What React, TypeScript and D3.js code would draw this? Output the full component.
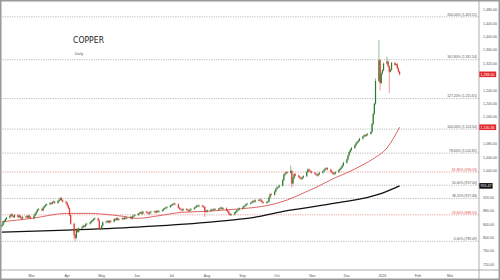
import React from "react";
import * as d3 from "d3";

// ---------- DATA ----------
const START_DATE = "2025-02-03"; // first trading day (Mon)
const FIRST_OPEN = 834;

// daily closes, one row per trading week (Mon..Fri)
const closes: number[] = [
  838, 846, 850, 856, 860,
  866, 870, 864, 862, 868,
  862, 866, 860, 858, 862,
  864, 860, 866, 862, 858,
  866, 872, 878, 884, 886,
  882, 890, 894, 898, 900,
  904, 902, 906, 908, 904,
  910, 914, 918, 912, 908,
  904, 896, 888, 868, 842,
  808, 800, 826, 818, 828,
  832, 836, 834, 840, 842,
  846, 850, 852, 856, 858,
  852, 828, 826, 836, 846,
  848, 850, 846, 850, 848,
  856, 854, 858, 854, 856,
  858, 856, 860, 858, 860,
  862, 858, 864, 866, 868,
  872, 874, 876, 872, 878,
  876, 874, 872, 876, 878,
  878, 876, 880, 878, 880,
  882, 886, 888, 890, 892,
  896, 898, 900, 902, 900,
  890, 886, 884, 882, 886,
  884, 882, 880, 884, 886,
  890, 892, 896, 894, 896,
  894, 892, 880, 878, 882,
  882, 884, 884, 886, 884,
  886, 888, 890, 886, 888,
  882, 878, 872, 868, 870,
  874, 878, 882, 884, 888,
  890, 894, 896, 900, 902,
  904, 906, 910, 908, 912,
  912, 914, 910, 906, 904,
  906, 908, 920, 930, 928,
  938, 946, 950, 952, 956,
  972, 988, 992, 996, 994,
  1000, 962, 978, 990, 986,
  982, 978, 976, 980, 984,
  996, 1004, 1000, 998, 994,
  992, 988, 986, 990, 994,
  998, 1002, 1006, 1008, 1004,
  998, 994, 990, 992, 996,
  1002, 1006, 1010, 1016, 1024,
  1034, 1046, 1056, 1062, 1068,
  1076, 1082, 1086, 1090, 1096,
  1102, 1106, 1104, 1108, 1110,
  1116, 1140, 1170, 1200, 1268,
  1330, 1262, 1290, 1300, 1320,
  1326, 1312, 1296, 1302, 1322,
  1316, 1318, 1306, 1296, 1288,
];

// notable wick extremes
const highWicks: [string, number][] = [
  ["2025-03-26", 922],
  ["2025-10-13", 1016],
  ["2025-12-26", 1276],
  ["2025-12-29", 1390],
  ["2026-01-05", 1340],
];
const lowWicks: [string, number][] = [
  ["2025-04-07", 796],
  ["2025-04-08", 790],
  ["2025-07-30", 862],
  ["2025-10-14", 950],
  ["2025-12-30", 1240],
  ["2026-01-07", 1232],
];

// 50-day MA (red)
const ma50Dates = [
  "2025-02-03", "2025-03-01", "2025-04-01", "2025-04-20", "2025-05-01", "2025-05-20",
  "2025-06-01", "2025-06-20", "2025-07-10", "2025-08-01", "2025-08-20", "2025-09-10",
  "2025-09-25", "2025-10-10", "2025-10-25", "2025-11-05", "2025-11-20", "2025-12-01",
  "2025-12-15", "2025-12-25", "2026-01-05", "2026-01-16",
];
const ma50Values = [
  848, 858, 873, 873, 871, 864,
  858, 866, 876, 879, 884, 890,
  898, 913, 935, 952, 978, 994,
  1018, 1038, 1068, 1130,
];

// 200-day MA (black)
const ma200Dates = [
  "2025-02-03", "2025-04-01", "2025-06-01", "2025-08-01", "2025-08-20", "2025-09-10",
  "2025-10-10", "2025-11-22", "2025-12-30", "2026-01-16",
];
const ma200Values = [817, 823, 832, 846, 852, 860, 881, 904, 931, 955];

// fibonacci levels
const fibPcts = ["0.00%", "23.60%", "38.20%", "50.00%", "61.80%", "78.60%", "100.00%", "127.20%", "161.80%", "200.00%"];
const fibValues = [789.49, 868.55, 917.46, 957.0, 996.53, 1052.81, 1124.5, 1215.61, 1331.54, 1459.51];
const fibRed = ["23.60%", "61.80%"];

// axes
const yTicks = [720, 760, 800, 840, 880, 920, 960, 1000, 1040, 1080, 1120, 1160, 1200, 1240, 1280, 1320, 1360, 1400, 1440, 1480];
const monthTickDates = ["2025-03-01", "2025-04-01", "2025-05-01", "2025-06-01", "2025-07-01", "2025-08-01", "2025-09-01", "2025-10-01", "2025-11-01", "2025-12-01", "2026-01-01", "2026-02-01", "2026-03-01"];
const monthTickLabels = ["Mar", "Apr", "May", "Jun", "Jul", "Aug", "Sep", "Oct", "Nov", "Dec", "2026", "Feb", "Mar"];

const TITLE = "COPPER";
const SUBTITLE = "Daily";
const LAST_LABEL = "1,288.00";
const MA50_LABEL = "1,130.36";
const MA200_LABEL = "955.47";

// ---------- HELPERS ----------
const parse = (s: string) => {
  const [y, m, d] = s.split("-").map(Number);
  return new Date(y, m - 1, d);
};

function tradingDays(start: string, n: number): Date[] {
  const out: Date[] = [];
  const d = parse(start);
  while (out.length < n) {
    const wd = d.getDay();
    if (wd !== 0 && wd !== 6) out.push(new Date(d));
    d.setDate(d.getDate() + 1);
  }
  return out;
}

const key = (d: Date) => `${d.getFullYear()}-${String(d.getMonth() + 1).padStart(2, "0")}-${String(d.getDate()).padStart(2, "0")}`;

const FONT = "'Liberation Sans', Arial, sans-serif";

export default function App() {
  const W = 500;
  const H = 280;
  const plotRight = 479;
  const axisY = 270;

  const x = d3.scaleTime().domain([parse("2025-03-01"), parse("2026-03-01")]).range([31.7, 450]);
  const y = d3.scaleLinear().domain([720, 1480]).range([264.6, 10]);

  const days = tradingDays(START_DATE, closes.length);
  const hiMap = new Map(highWicks);
  const loMap = new Map(lowWicks);
  const candles = days.map((d, i) => {
    const o = i === 0 ? FIRST_OPEN : closes[i - 1];
    const c = closes[i];
    const k = key(d);
    const h = Math.max(hiMap.get(k) ?? -Infinity, Math.max(o, c) + 3);
    const l = Math.min(loMap.get(k) ?? Infinity, Math.min(o, c) - 3);
    return { d, o, h, l, c };
  });

  const line = d3
    .line<[Date, number]>()
    .x((p) => x(p[0]))
    .y((p) => y(p[1]))
    .curve(d3.curveMonotoneX);

  const ma50 = ma50Dates.map((s, i) => [parse(s), ma50Values[i]] as [Date, number]);
  const ma200 = ma200Dates.map((s, i) => [parse(s), ma200Values[i]] as [Date, number]);

  const fs = 3.6;
  const tw = (t: string) => t.length * fs * 0.5 + 1.5;

  const lastC = closes[closes.length - 1];
  const lastMa50 = ma50Values[ma50Values.length - 1];
  const lastMa200 = ma200Values[ma200Values.length - 1];

  const boxes = [
    { v: lastC, label: LAST_LABEL, fill: "#e3262b" },
    { v: lastMa50, label: MA50_LABEL, fill: "#e3262b" },
    { v: lastMa200, label: MA200_LABEL, fill: "#111" },
  ];
  // tick labels hidden behind the value boxes
  const visibleTicks = yTicks.filter((t) => boxes.every((b) => Math.abs(y(t) - y(b.v)) > 5.2));

  return (
    <svg width={W} height={H} style={{ position: "absolute", left: 0, top: 0, background: "#fff" }} fontFamily={FONT}>
      <rect x={0} y={0} width={W} height={H} fill="#fff" />

      {/* fib lines */}
      {fibValues.map((v, i) => {
        const red = fibRed.includes(fibPcts[i]);
        return (
          <g key={"fib" + i}>
            <line x1={0} x2={plotRight} y1={y(v)} y2={y(v)} stroke={red ? "#e58a8a" : "#a8a8a8"} strokeWidth={0.8} strokeDasharray="1.2,1.2" />
            <text x={477} y={y(v) - 1.3} fontSize={3.4} textAnchor="end" fill={red ? "#e05050" : "#555"}>
              {`${fibPcts[i]} (${d3.format(",.2f")(v)})`}
            </text>
          </g>
        );
      })}

      {/* title */}
      <text x={73} y={42.5} fontSize={9.5} fill="#222" textLength={31} lengthAdjust="spacingAndGlyphs" fontFamily="'DejaVu Sans', sans-serif">
        {TITLE}
      </text>
      <text x={75} y={54.5} fontSize={fs} fill="#555">
        {SUBTITLE}
      </text>

      {/* MAs */}
      <path d={line(ma200) || ""} fill="none" stroke="#111" strokeWidth={1.3} />
      <path d={line(ma50) || ""} fill="none" stroke="#d43c3c" strokeWidth={0.8} />

      {/* candles */}
      {candles.map((c, i) => {
        const cx = x(c.d);
        const up = c.c >= c.o;
        const col = up ? "#2b7a2b" : "#e0322f";
        const top = y(Math.max(c.o, c.c));
        const bh = Math.max(0.5, Math.abs(y(c.o) - y(c.c)));
        return (
          <g key={"c" + i}>
            <line x1={cx} x2={cx} y1={y(c.h)} y2={y(c.l)} stroke={col} strokeWidth={0.5} />
            <rect x={cx - 0.6} y={top} width={1.2} height={bh} fill={col} />
          </g>
        );
      })}

      {/* axes frame */}
      <line x1={0} x2={W} y1={axisY} y2={axisY} stroke="#9a9a9a" strokeWidth={0.8} />
      <line x1={plotRight} x2={plotRight} y1={0} y2={H} stroke="#9a9a9a" strokeWidth={0.8} />
      <rect x={0.75} y={0.75} width={W - 1.5} height={H - 1.5} fill="none" stroke="#9a9a9a" strokeWidth={1.5} />

      {/* y labels */}
      {visibleTicks.map((t) => (
        <text key={"y" + t} x={483} y={y(t) + 1.2} fontSize={fs} fill="#555">
          {d3.format(",.2f")(t)}
        </text>
      ))}

      {/* x labels */}
      {monthTickDates.map((s, i) => (
        <text key={"x" + i} x={x(parse(s))} y={276.8} fontSize={fs} fill="#555" textAnchor="middle">
          {monthTickLabels[i]}
        </text>
      ))}

      {/* value boxes */}
      {boxes.map((b, i) => (
        <g key={"b" + i}>
          <rect x={479.3} y={y(b.v) - 2.8} width={tw(b.label) + 1} height={5.6} fill={b.fill} />
          <text x={480.6} y={y(b.v) + 1.25} fontSize={fs} fill="#fff">
            {b.label}
          </text>
        </g>
      ))}
    </svg>
  );
}
